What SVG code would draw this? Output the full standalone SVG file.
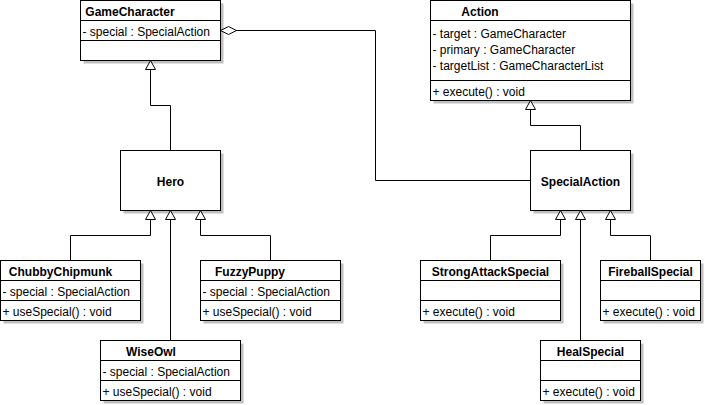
<svg xmlns="http://www.w3.org/2000/svg" width="705" height="405" viewBox="0 0 705 405">
<style>
  .shadow { fill: #c0c0c0; stroke: none; }
  .box { fill: #ffffff; stroke: #000000; stroke-width: 1; }
  .sep { stroke: #000000; stroke-width: 1; }
  .title { font-family: "Liberation Sans", Arial, sans-serif; font-size: 12px; font-weight: bold; fill: #000000; text-anchor: middle; }
  .member { font-family: "Liberation Sans", Arial, sans-serif; font-size: 12px; fill: #000000; }
  .conn { fill: none; stroke: #000000; stroke-width: 1; }
  .gen { marker-end: url(#tri); }
  .agg { marker-start: url(#diamond); }
</style>
<defs>
  <marker id="tri" viewBox="0 0 9 10" refX="9" refY="5" markerWidth="9" markerHeight="10" markerUnits="userSpaceOnUse" orient="auto" overflow="visible">
    <path d="M0,0 L9,5 L0,10 Z" fill="#ffffff" stroke="#000000" stroke-width="1"/>
  </marker>
  <marker id="diamond" viewBox="0 0 16 8" refX="0" refY="4" markerWidth="16" markerHeight="8" markerUnits="userSpaceOnUse" orient="auto" overflow="visible">
    <path d="M0,4 L8,0 L16,4 L8,8 Z" fill="#ffffff" stroke="#000000" stroke-width="1"/>
  </marker>
</defs>
<rect x="0" y="0" width="705" height="405" fill="#ffffff"/>
<g transform="translate(0.5,0.5)">
  <g id="GameCharacter">
    <rect class="shadow" x="83" y="3" width="140" height="60"/>
    <rect class="box" x="80" y="0" width="140" height="60"/>
    <line class="sep" x1="80" y1="20" x2="220" y2="20"/>
    <line class="sep" x1="80" y1="40" x2="220" y2="40"/>
    <text class="title" x="129.5" y="15">GameCharacter</text>
    <text class="member" x="82" y="35">- special : SpecialAction</text>
  </g>
  <g id="Action">
    <rect class="shadow" x="433" y="3" width="200" height="100"/>
    <rect class="box" x="430" y="0" width="200" height="100"/>
    <line class="sep" x1="430" y1="20" x2="630" y2="20"/>
    <line class="sep" x1="430" y1="80" x2="630" y2="80"/>
    <text class="title" x="479.5" y="15">Action</text>
    <text class="member" x="432" y="37">- target : GameCharacter</text>
    <text class="member" x="432" y="53">- primary : GameCharacter</text>
    <text class="member" x="432" y="69">- targetList : GameCharacterList</text>
    <text class="member" x="432" y="95">+ execute() : void</text>
  </g>
  <g id="Hero">
    <rect class="shadow" x="123" y="153" width="100" height="60"/>
    <rect class="box" x="120" y="150" width="100" height="60"/>
    <text class="title" x="170" y="185">Hero</text>
  </g>
  <g id="SpecialAction">
    <rect class="shadow" x="533" y="153" width="100" height="60"/>
    <rect class="box" x="530" y="150" width="100" height="60"/>
    <text class="title" x="580" y="185">SpecialAction</text>
  </g>
  <g id="ChubbyChipmunk">
    <rect class="shadow" x="3" y="263" width="140" height="60"/>
    <rect class="box" x="0" y="260" width="140" height="60"/>
    <line class="sep" x1="0" y1="280" x2="140" y2="280"/>
    <line class="sep" x1="0" y1="300" x2="140" y2="300"/>
    <text class="title" x="60" y="275">ChubbyChipmunk</text>
    <text class="member" x="2" y="295">- special : SpecialAction</text>
    <text class="member" x="2" y="315">+ useSpecial() : void</text>
  </g>
  <g id="FuzzyPuppy">
    <rect class="shadow" x="203" y="263" width="140" height="60"/>
    <rect class="box" x="200" y="260" width="140" height="60"/>
    <line class="sep" x1="200" y1="280" x2="340" y2="280"/>
    <line class="sep" x1="200" y1="300" x2="340" y2="300"/>
    <text class="title" x="249.5" y="275">FuzzyPuppy</text>
    <text class="member" x="202" y="295">- special : SpecialAction</text>
    <text class="member" x="202" y="315">+ useSpecial() : void</text>
  </g>
  <g id="WiseOwl">
    <rect class="shadow" x="103" y="343" width="140" height="60"/>
    <rect class="box" x="100" y="340" width="140" height="60"/>
    <line class="sep" x1="100" y1="360" x2="240" y2="360"/>
    <line class="sep" x1="100" y1="380" x2="240" y2="380"/>
    <text class="title" x="150.5" y="355">WiseOwl</text>
    <text class="member" x="102" y="375">- special : SpecialAction</text>
    <text class="member" x="102" y="395">+ useSpecial() : void</text>
  </g>
  <g id="StrongAttackSpecial">
    <rect class="shadow" x="423" y="263" width="140" height="60"/>
    <rect class="box" x="420" y="260" width="140" height="60"/>
    <line class="sep" x1="420" y1="280" x2="560" y2="280"/>
    <line class="sep" x1="420" y1="300" x2="560" y2="300"/>
    <text class="title" x="490" y="275">StrongAttackSpecial</text>
    <text class="member" x="422" y="315">+ execute() : void</text>
  </g>
  <g id="FireballSpecial">
    <rect class="shadow" x="603" y="263" width="100" height="60"/>
    <rect class="box" x="600" y="260" width="100" height="60"/>
    <line class="sep" x1="600" y1="280" x2="700" y2="280"/>
    <line class="sep" x1="600" y1="300" x2="700" y2="300"/>
    <text class="title" x="650" y="275">FireballSpecial</text>
    <text class="member" x="602" y="315">+ execute() : void</text>
  </g>
  <g id="HealSpecial">
    <rect class="shadow" x="543" y="343" width="100" height="60"/>
    <rect class="box" x="540" y="340" width="100" height="60"/>
    <line class="sep" x1="540" y1="360" x2="640" y2="360"/>
    <line class="sep" x1="540" y1="380" x2="640" y2="380"/>
    <text class="title" x="590" y="355">HealSpecial</text>
    <text class="member" x="542" y="395">+ execute() : void</text>
  </g>
  <g id="connectors">
    <polyline class="conn agg" points="220,30 375,30 375,180 530,180"/>
    <polyline class="conn gen" points="170,150 170,105 150,105 150,60"/>
    <polyline class="conn gen" points="70,260 70,235 150,235 150,210"/>
    <polyline class="conn gen" points="170,340 170,210"/>
    <polyline class="conn gen" points="270,260 270,235 200,235 200,210"/>
    <polyline class="conn gen" points="580,150 580,125 530,125 530,100"/>
    <polyline class="conn gen" points="490,260 490,235 560,235 560,210"/>
    <polyline class="conn gen" points="580,340 580,210"/>
    <polyline class="conn gen" points="650,260 650,235 610,235 610,210"/>
  </g>
</g>
</svg>
